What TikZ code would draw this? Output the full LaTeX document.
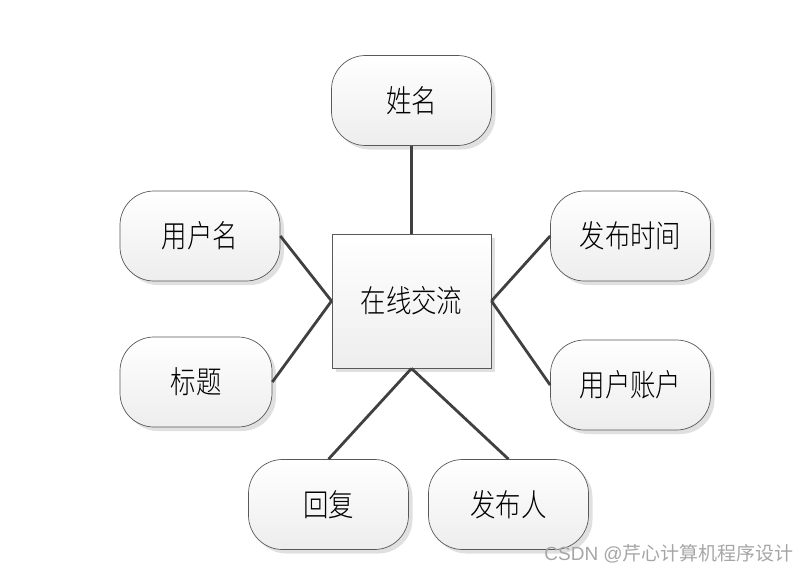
\documentclass[tikz,border=0pt]{standalone}
\usepackage{fontspec}
\newfontfamily\cjk{Noto Sans CJK SC}[UprightFont=* Light, FakeStretch=0.82]
\newfontfamily\cjkw{Noto Sans CJK SC}
\usetikzlibrary{shadows}
\tikzset{
  attr/.style={draw=black!65, line width=0.7pt, rounded corners=34pt,
    minimum width=160pt, minimum height=90pt, inner sep=0pt,
    top color=white, bottom color=black!7,
    drop shadow={shadow xshift=4pt, shadow yshift=-4pt, fill=black!12, opacity=1},
    font=\cjk\fontsize{31}{33}\selectfont},
  ent/.style={draw=black!65, line width=0.9pt,
    minimum width=159pt, minimum height=134pt, inner sep=0pt,
    top color=white, bottom color=black!7,
    drop shadow={shadow xshift=4pt, shadow yshift=-4pt, fill=black!12, opacity=1},
    font=\cjk\fontsize{31}{33}\selectfont},
  link/.style={draw=black!75, line width=2.8pt}
}
\begin{document}
\begin{tikzpicture}[x=1pt,y=-1pt]
\useasboundingbox (0,0) rectangle (809,574);
\node[ent] (c) at (411.5,301) {在线交流};
\node[attr] (xm) at (411.5,100.5) {姓名};
\node[attr] (yhm) at (200,236) {用户名};
\node[attr, minimum width=152pt] (bt) at (196,382) {标题};
\node[attr] (fbsj) at (630.5,236) {发布时间};
\node[attr] (yhzh) at (630.5,385) {用户账户};
\node[attr] (hf) at (328.5,504.5) {回复};
\node[attr] (fbr) at (508.5,504.5) {发布人};
\draw[link] (xm.south) -- (c.north);
\draw[link] (yhm.east) -- (c.west);
\draw[link] (bt.east) -- (c.west);
\draw[link] (fbsj.west) -- (c.east);
\draw[link] (yhzh.west) -- (c.east);
\draw[link] (hf.north) -- (c.south);
\draw[link] (fbr.north) -- (c.south);
\node[text=black!35, font=\fontspec{Liberation Sans}\fontsize{19}{21}\selectfont, anchor=east, inner sep=0pt] (wm) at (794,554) {CSDN @{\cjkw 芹心计算机程序设计}};
\end{tikzpicture}
\end{document}
